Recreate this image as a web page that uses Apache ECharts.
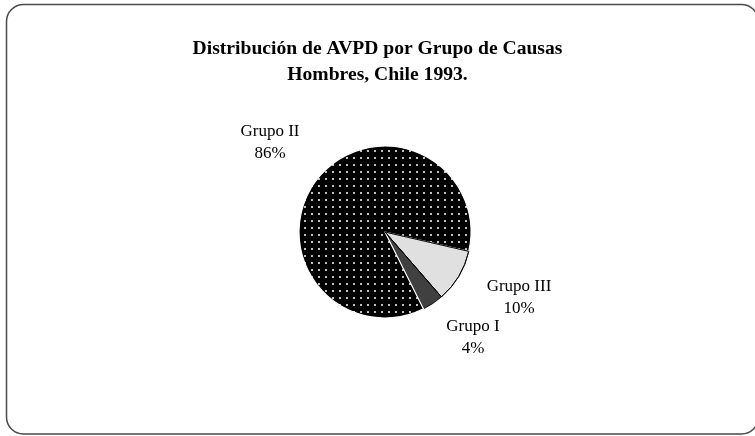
<!DOCTYPE html>
<html>
<head>
<meta charset="utf-8">
<script src="https://cdn.jsdelivr.net/npm/echarts@6/dist/echarts.min.js"></script>
<style>
html,body{margin:0;padding:0;background:#fff;}
#chart{width:755px;height:436px;}
</style>
</head>
<body>
<div id="chart"></div>
<script>
// Data
const categories = ['Grupo III', 'Grupo I', 'Grupo II'];
const values = [10, 4, 86];
const titleLines = ['Distribución de AVPD por Grupo de Causas', 'Hombres, Chile 1993.'];

// Styles (not data)
const sliceColors = ['#e0e0e0', '#404040', null];
const labelCenters = [[519, 298], [473, 338], [270, 143]];

function makeDotPattern() {
  const c = document.createElement('canvas');
  const s = 7;
  c.width = s; c.height = s;
  const ctx = c.getContext('2d');
  ctx.fillStyle = '#000';
  ctx.fillRect(0, 0, s, s);
  ctx.fillStyle = '#c0c0c0';
  ctx.fillRect(3, 3, 2, 2);
  return c;
}
const dotPattern = makeDotPattern();

const chart = echarts.init(document.getElementById('chart'), null, {renderer: 'canvas'});
const total = values.reduce((a, b) => a + b, 0);

const pieData = categories.map((name, i) => ({
  name: name,
  value: values[i],
  itemStyle: {
    color: sliceColors[i] || {image: dotPattern, repeat: 'repeat'},
    borderColor: i === 2 ? '#ffffff' : '#000000',
    borderWidth: i === 2 ? 1.2 : 0.8
  }
}));

const overlayData = categories.map((name, i) => ({
  name: name,
  value: values[i],
  itemStyle: {
    color: 'rgba(0,0,0,0)',
    borderColor: i === 0 ? '#000000' : 'rgba(0,0,0,0)',
    borderWidth: 1
  }
}));

chart.setOption({
  animation: false,
  backgroundColor: '#ffffff',
  title: {
    text: titleLines.join('\n'),
    left: 'center',
    top: 31,
    textStyle: {
      fontFamily: 'Liberation Serif',
      fontWeight: 'bold',
      fontSize: 19.6,
      lineHeight: 26,
      color: '#000'
    }
  },
  graphic: [{
    type: 'rect',
    shape: {x: 6.5, y: 4.5, width: 752, height: 429.5, r: 17},
    style: {fill: 'none', stroke: '#4a4a4a', lineWidth: 1.5},
    silent: true,
    z: 100
  }],
  series: [{
    type: 'pie',
    center: [385, 232],
    radius: 86,
    startAngle: -13,
    clockwise: true,
    avoidLabelOverlap: false,
    data: pieData,
    label: {
      show: true,
      position: 'outside',
      formatter: p => p.name + '\n' + Math.round(p.value / total * 100) + '%',
      fontFamily: 'Liberation Serif',
      fontSize: 17,
      lineHeight: 22,
      color: '#000',
      align: 'center'
    },
    labelLine: {show: false},
    labelLayout: function (params) {
      const c = labelCenters[params.dataIndex];
      return {x: c[0], y: c[1], align: 'center', verticalAlign: 'middle'};
    },
    emphasis: {disabled: true}
  }, {
    type: 'pie',
    center: [385, 232],
    radius: 86,
    startAngle: -13,
    clockwise: true,
    silent: true,
    data: overlayData,
    label: {show: false},
    labelLine: {show: false},
    emphasis: {disabled: true},
    z: 3
  }]
});
</script>
</body>
</html>
